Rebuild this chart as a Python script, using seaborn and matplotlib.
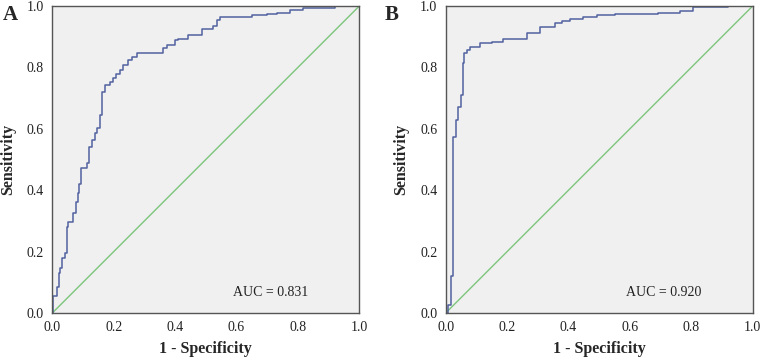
import matplotlib
matplotlib.use('Agg')
import matplotlib.pyplot as plt
import seaborn as sns
import pandas as pd

# ROC curve A (1 - specificity, sensitivity), step corners
fpr_a = [0.0, 0.003, 0.016, 0.022, 0.025, 0.032, 0.040, 0.047, 0.050, 0.068, 0.077,
         0.083, 0.088, 0.092, 0.114, 0.121, 0.128, 0.139, 0.147, 0.155, 0.161, 0.172,
         0.188, 0.199, 0.208, 0.221, 0.229, 0.248, 0.259, 0.275, 0.362, 0.373, 0.400,
         0.410, 0.443, 0.487, 0.524, 0.535, 0.546, 0.650, 0.698, 0.731, 0.774, 0.818,
         0.921, 1.0]
tpr_a = [0.0, 0.055, 0.086, 0.129, 0.146, 0.178, 0.194, 0.281, 0.297, 0.325, 0.363,
         0.390, 0.420, 0.471, 0.488, 0.542, 0.564, 0.585, 0.601, 0.645, 0.720, 0.743,
         0.753, 0.764, 0.780, 0.790, 0.808, 0.824, 0.835, 0.848, 0.862, 0.874, 0.889,
         0.894, 0.906, 0.924, 0.935, 0.954, 0.965, 0.970, 0.975, 0.978, 0.987, 0.992,
         1.0, 1.0]

# ROC curve B
fpr_b = [0.0, 0.006, 0.016, 0.023, 0.025, 0.034, 0.041, 0.050, 0.055, 0.060, 0.068,
         0.079, 0.112, 0.150, 0.188, 0.264, 0.307, 0.356, 0.378, 0.405, 0.448, 0.492,
         0.551, 0.693, 0.763, 0.807, 0.920, 1.0]
tpr_b = [0.0, 0.026, 0.120, 0.346, 0.574, 0.629, 0.672, 0.710, 0.813, 0.846, 0.857,
         0.868, 0.878, 0.883, 0.891, 0.911, 0.933, 0.943, 0.952, 0.958, 0.963, 0.970,
         0.974, 0.978, 0.985, 0.998, 1.0, 1.0]

panels = ['A', 'B']
auc_labels = ['AUC = 0.831', 'AUC = 0.920']
curves = [(fpr_a, tpr_a), (fpr_b, tpr_b)]
ticks = [0.0, 0.2, 0.4, 0.6, 0.8, 1.0]

sns.set_style('white')
plt.rcParams['font.family'] = ['Liberation Serif', 'DejaVu Serif']

fig = plt.figure(figsize=(7.61, 3.6), dpi=100)
lefts = [52.3 / 761, 445.7 / 761]
letter_x = [3 / 761, 385 / 761]

for i in range(2):
    ax = fig.add_axes([lefts[i], 47 / 360, 307 / 761, 307 / 360])
    ax.set_facecolor('#f0f0f0')
    fpr, tpr = curves[i]
    df = pd.DataFrame({'fpr': fpr, 'tpr': tpr})
    # reference diagonal
    sns.lineplot(x=[0, 1], y=[0, 1], ax=ax, color='#7cc47c', linewidth=1.0)
    sns.lineplot(data=df, x='fpr', y='tpr', ax=ax, sort=False, estimator=None,
                 drawstyle='steps-post', color='#5262a0', linewidth=1.1)
    ax.set_xlim(0, 1)
    ax.set_ylim(0, 1)
    ax.set_xticks(ticks)
    ax.set_yticks(ticks)
    ax.set_xticklabels([f'{t:.1f}' for t in ticks])
    ax.set_yticklabels([f'{t:.1f}' for t in ticks])
    ax.tick_params(direction='out', length=4, width=0.8, colors='#444444',
                   labelsize=10, labelcolor='#222222', pad=2)
    for sp in ax.spines.values():
        sp.set_color('#555555')
        sp.set_linewidth(1.0)
    ax.set_xlabel('1 - Specificity', fontsize=11.5, fontweight='bold')
    ax.set_ylabel('Sensitivity', fontsize=11.5, fontweight='bold')
    ax.xaxis.set_label_coords(0.5, -0.09)
    ax.yaxis.set_label_coords(-0.118, 0.5)
    ax.text(0.71, 0.066, auc_labels[i], transform=ax.transAxes, ha='center',
            va='center', fontsize=10, color='#222222')
    fig.text(letter_x[i], 0.985, panels[i], fontsize=15, fontweight='bold',
             va='top', ha='left')

fig.savefig('out.png', dpi=100)
